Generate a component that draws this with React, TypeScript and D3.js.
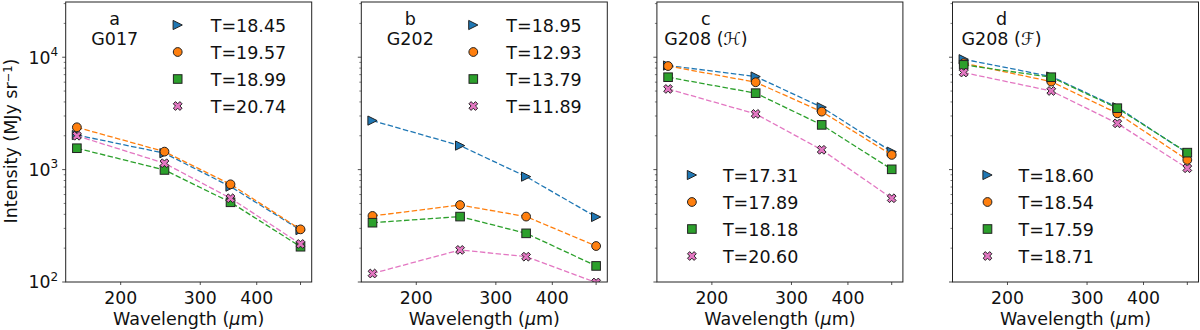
import React from "react";
import * as d3 from "d3";

const wavelengths = [160, 250, 350, 500];

const panelLabels = ["a", "b", "c", "d"];
const panelNames = ["G017", "G202", "G208", "G208"];
const panelScript = ["", "", "ℋ", "ℱ"];

const aBlue = [2030, 1400, 706, 290];
const aOrange = [2380, 1445, 740, 294];
const aGreen = [1550, 993, 512, 206];
const aPink = [2000, 1140, 556, 218];

const bBlue = [2730, 1636, 866, 379];
const bOrange = [387, 484, 382, 209];
const bGreen = [337, 382, 271, 139];
const bPink = [119, 193, 168, 99];

const cBlue = [8430, 6730, 3590, 1445];
const cOrange = [8350, 5990, 3280, 1352];
const cGreen = [6640, 4790, 2500, 1006];
const cPink = [5220, 3130, 1500, 556];

const dBlue = [9600, 6730, 3590, 1400];
const dOrange = [8850, 6070, 3170, 1220];
const dGreen = [8550, 6640, 3520, 1416];
const dPink = [7310, 5010, 2580, 1028];

const aTemps = ["18.45", "19.57", "18.99", "20.74"];
const bTemps = ["18.95", "12.93", "13.79", "11.89"];
const cTemps = ["17.31", "17.89", "18.18", "20.60"];
const dTemps = ["18.60", "18.54", "17.59", "18.71"];

const xTickValues = [200, 300, 400, 500];
const xTickLabels = ["200", "300", "400", ""];
const yMajor = [100, 1000, 10000];
const yMajorExp = ["2", "3", "4"];
const yMinor = [200, 300, 400, 500, 600, 700, 800, 900, 2000, 3000, 4000, 5000, 6000, 7000, 8000, 9000, 20000, 30000];

const panels = [
  { series: [aBlue, aOrange, aGreen, aPink], temps: aTemps, legendTop: true },
  { series: [bBlue, bOrange, bGreen, bPink], temps: bTemps, legendTop: true },
  { series: [cBlue, cOrange, cGreen, cPink], temps: cTemps, legendTop: false },
  { series: [dBlue, dOrange, dGreen, dPink], temps: dTemps, legendTop: false },
];

const colors = ["#1f77b4", "#ff7f0e", "#2ca02c", "#e377c2"];
const markers = ["tri", "circle", "square", "x"];

const FONT = "DejaVu Sans";
const W = 1200;
const H = 330;
const axLeft0 = 65.7;
const axStep = 295.6;
const axW = 246;
const axTop = 2;
const axBottom = 282;

function Marker({ kind, x, y, color }: { kind: string; x: number; y: number; color: string }) {
  const stroke = "#222";
  const sw = 1;
  if (kind === "circle") return <circle cx={x} cy={y} r={4.4} fill={color} stroke={stroke} strokeWidth={sw} />;
  if (kind === "square") return <rect x={x - 4.3} y={y - 4.3} width={8.6} height={8.6} fill={color} stroke={stroke} strokeWidth={sw} />;
  if (kind === "tri")
    return <path d="M-4.6,-4.6 L4.6,0 L-4.6,4.6 Z" transform={`translate(${x},${y})`} fill={color} stroke={stroke} strokeWidth={sw} />;
  return (
    <path
      d="M-4.4,-2.2 L-2.2,-4.4 L0,-2.2 L2.2,-4.4 L4.4,-2.2 L2.2,0 L4.4,2.2 L2.2,4.4 L0,2.2 L-2.2,4.4 L-4.4,2.2 L-2.2,0 Z"
      transform={`translate(${x},${y})`}
      fill={color}
      stroke={stroke}
      strokeWidth={sw}
    />
  );
}

function Panel({ idx }: { idx: number }) {
  const p = panels[idx];
  const left = axLeft0 + idx * axStep;
  const lx0 = Math.log10(160), lx1 = Math.log10(500);
  const m = (lx1 - lx0) * 0.05;
  const x = d3.scaleLog().domain([Math.pow(10, lx0 - m), Math.pow(10, lx1 + m)]).range([left, left + axW]);
  const y = d3.scaleLog().domain([100, 31000]).range([axBottom, axTop]);
  const line = d3
    .line<[number, number]>()
    .x((d) => x(d[0]))
    .y((d) => y(d[1]));
  const clipId = `clip${idx}`;
  const legX = p.legendTop ? left + 112 : left + 35;
  const legTxt = p.legendTop ? left + 145 : left + 66;
  const legY0 = p.legendTop ? 25 : 175;
  const cx = left + 49;
  return (
    <g>
      <defs>
        <clipPath id={clipId}>
          <rect x={left} y={axTop} width={axW} height={axBottom - axTop} />
        </clipPath>
      </defs>
      <g clipPath={`url(#${clipId})`}>
        {p.series.map((s, si) => {
          const pts: [number, number][] = wavelengths.map((w, i) => [w, s[i]]);
          return (
            <g key={si}>
              <path d={line(pts) || ""} fill="none" stroke={colors[si]} strokeWidth={1.3} strokeDasharray="5.5,2.4" />
              {pts.map((pt, i) => (
                <Marker key={i} kind={markers[si]} x={x(pt[0])} y={y(pt[1])} color={colors[si]} />
              ))}
            </g>
          );
        })}
      </g>
      <rect x={left} y={axTop} width={axW} height={axBottom - axTop} fill="none" stroke="#222" strokeWidth={1} />
      {xTickValues.map((v, i) => (
        <g key={v}>
          <line x1={x(v)} x2={x(v)} y1={axBottom} y2={axBottom + 3} stroke="#222" strokeWidth={0.8} />
          <text x={x(v)} y={304} textAnchor="middle" fontFamily={FONT} fontSize={17.3} fill="#111">
            {xTickLabels[i]}
          </text>
        </g>
      ))}
      {yMajor.map((v, i) => (
        <g key={v}>
          <line x1={left - 3.5} x2={left} y1={y(v)} y2={y(v)} stroke="#222" strokeWidth={0.8} />
          {idx === 0 && (
            <text x={left - 7.5} y={y(v) + 6.3} textAnchor="end" fontFamily={FONT} fontSize={17.3} fill="#111">
              10
              <tspan dy={-7.5} fontSize={12}>
                {yMajorExp[i]}
              </tspan>
            </text>
          )}
        </g>
      ))}
      {yMinor.map((v) => (
        <line key={v} x1={left - 2} x2={left} y1={y(v)} y2={y(v)} stroke="#222" strokeWidth={0.6} />
      ))}
      <text x={left + axW / 2} y={325} textAnchor="middle" fontFamily={FONT} fontSize={17.5} fill="#111">
        Wavelength (<tspan fontStyle="italic">μ</tspan>m)
      </text>
      <text x={cx} y={25} textAnchor="middle" fontFamily={FONT} fontSize={17.5} fill="#111">
        {panelLabels[idx]}
      </text>
      <text x={cx} y={45} textAnchor="middle" fontFamily={FONT} fontSize={17.5} fill="#111">
        {panelNames[idx]}
        {panelScript[idx] && (
          <>
            {" ("}
            <tspan fontStyle="italic">{panelScript[idx]}</tspan>
            {")"}
          </>
        )}
      </text>
      {p.temps.map((t, i) => (
        <g key={i}>
          <Marker kind={markers[i]} x={legX} y={legY0 + i * 27} color={colors[i]} />
          <text x={legTxt} y={legY0 + i * 27 + 6.5} fontFamily={FONT} fontSize={17.5} fill="#111">
            T={t}
          </text>
        </g>
      ))}
    </g>
  );
}

export default function App() {
  return (
    <svg width={W} height={H} style={{ position: "absolute", left: 0, top: 0, background: "#fff" }}>
      <rect x={0} y={0} width={W} height={H} fill="#fff" />
      {panels.map((_, i) => (
        <Panel key={i} idx={i} />
      ))}
      <text transform="translate(16.5,141) rotate(-90)" textAnchor="middle" fontFamily={FONT} fontSize={17.5} fill="#111">
        Intensity (MJy sr
        <tspan dy={-5} fontSize={11.5}>
          −1
        </tspan>
        <tspan dy={5}>)</tspan>
      </text>
    </svg>
  );
}
